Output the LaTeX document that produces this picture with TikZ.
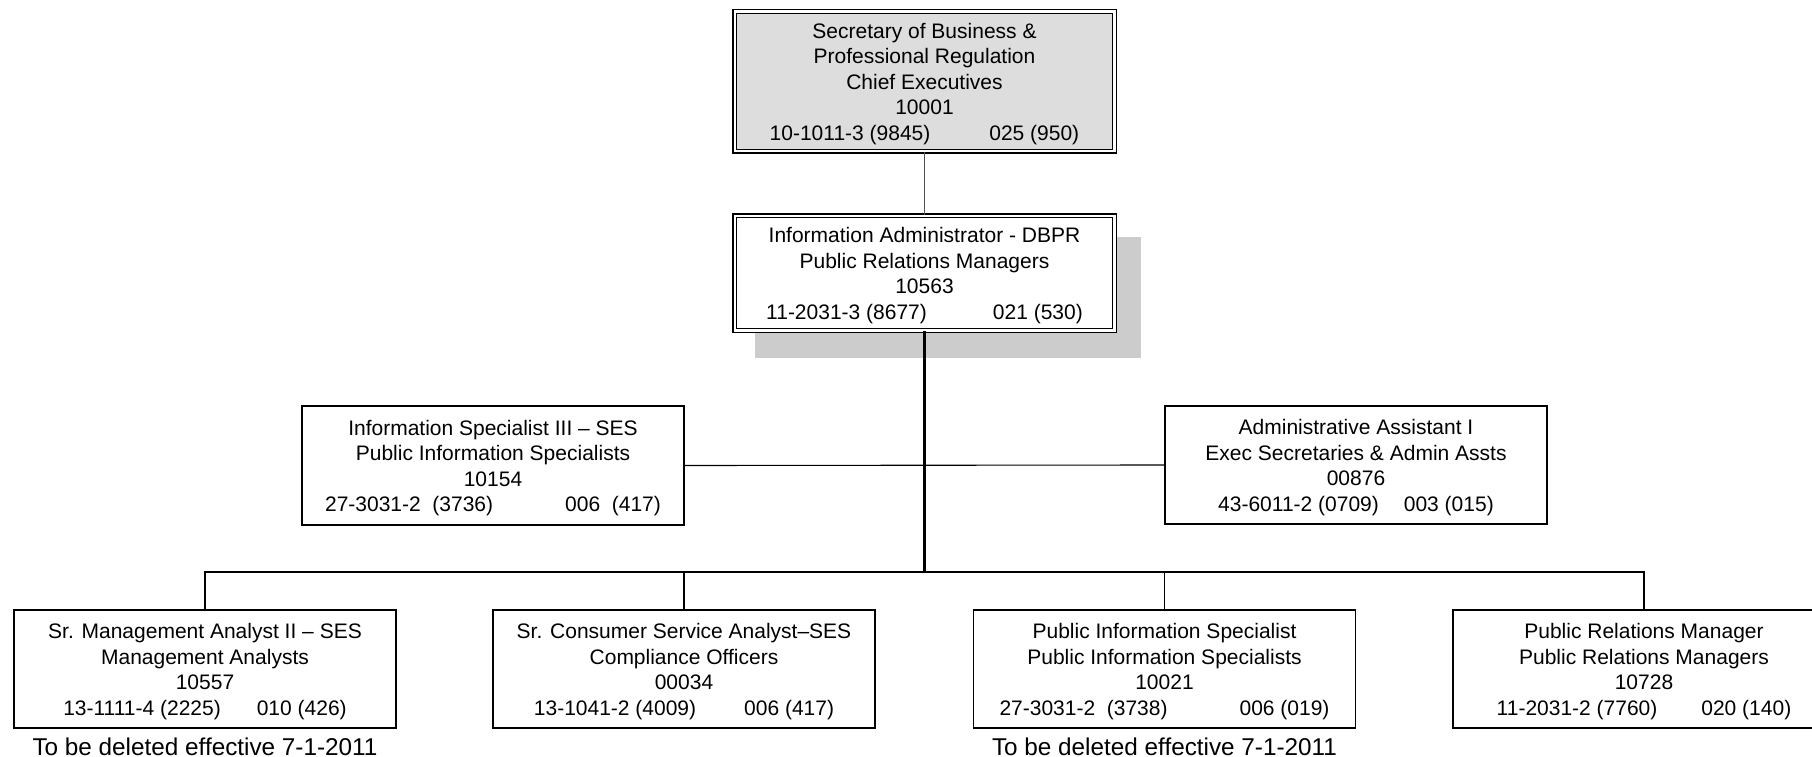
\documentclass[tikz,border=0pt]{standalone}
\usepackage{fontspec}
\setmainfont{Liberation Sans}
\definecolor{topfill}{RGB}{221,221,221}
\definecolor{shadowgray}{RGB}{204,204,204}
\definecolor{thinlink}{RGB}{80,80,80}
% a tall strut on the first line lowers each text block a little
\newcommand\firstline{\rule{0pt}{20pt}}
\begin{document}
\begin{tikzpicture}[x=1pt,y=-1pt,
  every node/.style={font=\fontsize{21}{25.5}\selectfont, align=center, inner sep=0pt},
  posbox/.style={draw, line width=1.8pt, fill=white, minimum width=382pt, minimum height=118pt},
  headbox/.style={draw, line width=1.5pt, double, double distance=2.4pt, minimum width=379.6pt},
  link/.style={line width=1.1pt},
  note/.style={font=\fontsize{24.3}{28}\selectfont, anchor=base}
]
\useasboundingbox (0,0) rectangle (1812,757);
\clip (0,0) rectangle (1812,757);

% shadow behind the information administrator box
\fill[shadowgray] (755,237) rectangle (1141,358);

% top two levels
\node[headbox, fill=topfill, minimum height=139.6pt] (exec) at (924.5,81.5)
  {\firstline Secretary of Business \&\\Professional Regulation\\Chief Executives\\10001\\10-1011-3 (9845)\hspace{59pt}025 (950)};
\node[headbox, fill=white, minimum height=114.6pt] (info) at (924.5,273)
  {\firstline Information Administrator - DBPR\\Public Relations Managers\\10563\\11-2031-3 (8677)\hspace{66pt}021 (530)};

% middle level
\node[posbox, minimum height=119pt] (spec3) at (493,465.5)
  {\firstline Information Specialist III – SES\\Public Information Specialists\\10154\\27-3031-2~~(3736)\hspace{72pt}006~~(417)};
\node[posbox] (admin) at (1356,465)
  {\firstline Administrative Assistant I\\Exec Secretaries \& Admin Assts\\00876\\43-6011-2 (0709)\hspace{25pt}003 (015)};

% bottom level
\node[posbox] (mgmt) at (205,669)
  {\firstline Sr. Management Analyst II – SES\\Management Analysts\\10557\\13-1111-4 (2225)\hspace{36pt}010 (426)};
\node[posbox] (cons) at (684,669)
  {\firstline Sr. Consumer Service Analyst–SES\\Compliance Officers\\00034\\13-1041-2 (4009)\hspace{48pt}006 (417)};
\node[posbox] (pis) at (1164.5,669)
  {\firstline Public Information Specialist\\Public Information Specialists\\10021\\27-3031-2~~(3738)\hspace{72pt}006 (019)};
\node[posbox] (prm) at (1644,669)
  {\firstline Public Relations Manager\\Public Relations Managers\\10728\\11-2031-2 (7760)\hspace{44pt}020 (140)};

% notes under the positions
\node[note] (mgmtnote) at (205,755) {To be deleted effective 7-1-2011};
\node[note] (pisnote) at (1164.5,755) {To be deleted effective 7-1-2011};

% connectors
\coordinate (bus) at (924.5,572);
\draw[line width=1.4pt, thinlink] (exec.south) -- (info.north);
\draw[line width=2.2pt] (info.south) -- (bus);
\draw[link] (spec3.east) -- (admin.west);
\draw[link] (mgmt.north) |- (bus) -| (prm.north);
\draw[link] (cons.north) -- (cons.north |- bus);
\draw[link] (pis.north) -- (pis.north |- bus);
\end{tikzpicture}
\end{document}
